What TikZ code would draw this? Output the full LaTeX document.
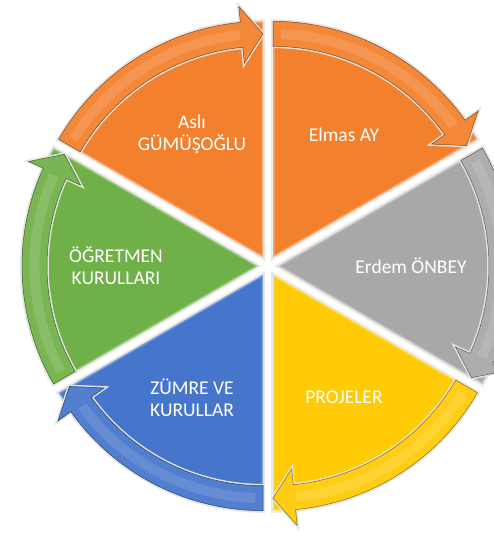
\documentclass[tikz,border=0pt]{standalone}
\usepackage{fontspec}
\setmainfont{Carlito}
\usepackage{xcolor}
\usepackage{tikz}
\usetikzlibrary{calc}

\definecolor{segOrange}{RGB}{242,128,44}
\definecolor{segGray}{RGB}{168,168,168}
\definecolor{segYellow}{RGB}{255,202,6}
\definecolor{segBlue}{RGB}{70,118,204}
\definecolor{segGreen}{RGB}{112,176,72}

\begin{document}
\begin{tikzpicture}[x=1pt,y=1pt,
    slice/.style={preaction={draw=black!10, line width=4pt}, fill=#1,
                  postaction={draw=white, opacity=0.3, line width=3pt, line join=round}},
    ring/.style={preaction={draw=black!10, line width=3.5pt}, fill=#1!94!white, draw=#1!55!black, line width=0.5pt},
    shine/.style={draw=white, opacity=0.12, line width=10pt},
    segtext/.style={text=white, align=center, font=\fontsize{19.5}{22}\selectfont}]
       \useasboundingbox (0,0) rectangle (493,533);
       
       \coordinate (O) at (268,267);
       
       \coordinate (A) at ($(O)+(120:10)$);
       \coordinate (E) at ($(O)+(60:10)$);
       \coordinate (G) at ($(O)+(0:10)$);
       \coordinate (P) at ($(O)+(-60:10)$);
       \coordinate (Z) at ($(O)+(-120:10)$);
       \coordinate (K) at ($(O)+(180:10)$);
       
       % slices
       \path[slice=segOrange, shift={(A)}] (0,0) -- (150:236) arc[start angle=150, end angle=90, radius=236] -- cycle;
       \path[slice=segOrange, shift={(E)}] (0,0) -- (90:236) arc[start angle=90, end angle=30, radius=236] -- cycle;
       \path[slice=segGray, shift={(G)}] (0,0) -- (30:236) arc[start angle=30, end angle=-30, radius=236] -- cycle;
       \path[slice=segYellow, shift={(P)}] (0,0) -- (-30:236) arc[start angle=-30, end angle=-90, radius=236] -- cycle;
       \path[slice=segBlue, shift={(Z)}] (0,0) -- (-90:236) arc[start angle=-90, end angle=-150, radius=236] -- cycle;
       \path[slice=segGreen, shift={(K)}] (0,0) -- (210:236) arc[start angle=210, end angle=150, radius=236] -- cycle;
       
       % arrows on the rim
       \path[ring=segGreen, shift={(K)}] (210:236) arc[start angle=210, end angle=155.5, radius=236] -- (155.5:252) -- (150:223.5) -- (155.5:195) -- (155.5:211) arc[start angle=155.5, end angle=210, radius=211] -- cycle;
       \draw[shine, shift={(K)}] (208:223.5) arc[start angle=208, end angle=156, radius=223.5];
       \path[ring=segBlue, shift={(Z)}] (-90:236) arc[start angle=-90, end angle=-144.5, radius=236] -- (-144.5:252) -- (-150:223.5) -- (-144.5:195) -- (-144.5:211) arc[start angle=-144.5, end angle=-90, radius=211] -- cycle;
       \draw[shine, shift={(Z)}] (-92:223.5) arc[start angle=-92, end angle=-144, radius=223.5];
       \path[ring=segYellow, shift={(P)}] (-30:236) arc[start angle=-30, end angle=-84.5, radius=236] -- (-84.5:252) -- (-90:223.5) -- (-84.5:195) -- (-84.5:211) arc[start angle=-84.5, end angle=-30, radius=211] -- cycle;
       \draw[shine, shift={(P)}] (-32:223.5) arc[start angle=-32, end angle=-84, radius=223.5];
       \path[ring=segGray, shift={(G)}] (30:236) arc[start angle=30, end angle=-24.5, radius=236] -- (-24.5:252) -- (-30:223.5) -- (-24.5:195) -- (-24.5:211) arc[start angle=-24.5, end angle=30, radius=211] -- cycle;
       \draw[shine, shift={(G)}] (28:223.5) arc[start angle=28, end angle=-24, radius=223.5];
       \path[ring=segOrange, shift={(E)}] (90:236) arc[start angle=90, end angle=35.5, radius=236] -- (35.5:252) -- (30:223.5) -- (35.5:195) -- (35.5:211) arc[start angle=35.5, end angle=90, radius=211] -- cycle;
       \draw[shine, shift={(E)}] (88:223.5) arc[start angle=88, end angle=36, radius=223.5];
       \path[ring=segOrange, shift={(A)}] (150:236) arc[start angle=150, end angle=95.5, radius=236] -- (95.5:252) -- (90:223.5) -- (95.5:195) -- (95.5:211) arc[start angle=95.5, end angle=150, radius=211] -- cycle;
       \draw[shine, shift={(A)}] (148:223.5) arc[start angle=148, end angle=96, radius=223.5];
       
       % texts
       \node[segtext] (asli) at ($(O)+(120:152)$) {Aslı\\GÜMÜŞOĞLU};
       \node[segtext] (elmas) at ($(O)+(60:152)$) {Elmas AY};
       \node[segtext] (erdem) at ($(O)+(0:143)$) {Erdem ÖNBEY};
       \node[segtext] (projeler) at ($(O)+(-60:152)$) {PROJELER};
       \node[segtext] (zumre) at ($(O)+(-120:152)$) {ZÜMRE VE\\KURULLAR};
       \node[segtext] (ogretmen) at ($(O)+(180:152)$) {ÖĞRETMEN\\KURULLARI};
\end{tikzpicture}
\end{document}
